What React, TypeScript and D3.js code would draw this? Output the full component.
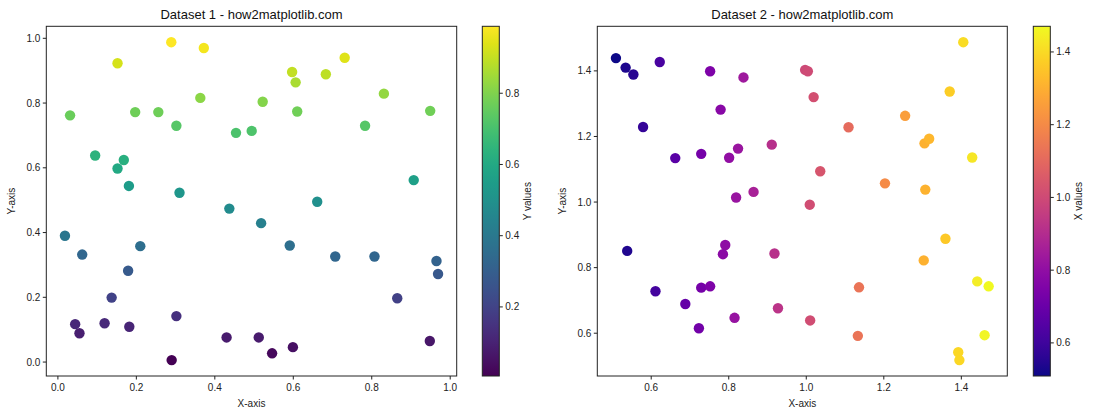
import React from "react";
import * as d3 from "d3";

// Dataset 1 (colour = y)
const x1 = [0.289, 0.372, 0.152, 0.363, 0.522, 0.031, 0.197, 0.256, 0.302, 0.454, 0.494, 0.095, 0.168, 0.152, 0.181, 0.310, 0.437,
  0.731, 0.597, 0.606, 0.683, 0.610, 0.831, 0.949, 0.783, 0.907, 0.661,
  0.018, 0.062, 0.210, 0.179, 0.137, 0.044, 0.055, 0.119, 0.182, 0.302, 0.290, 0.430, 0.512, 0.546, 0.518,
  0.591, 0.707, 0.807, 0.965, 0.969, 0.865, 0.599, 0.948];
const y1 = [0.988, 0.970, 0.923, 0.816, 0.804, 0.762, 0.772, 0.772, 0.730, 0.708, 0.714, 0.638, 0.624, 0.598, 0.544, 0.523, 0.474,
  0.940, 0.896, 0.864, 0.889, 0.774, 0.829, 0.776, 0.730, 0.562, 0.495,
  0.390, 0.332, 0.358, 0.282, 0.199, 0.117, 0.089, 0.120, 0.109, 0.142, 0.006, 0.076, 0.076, 0.027, 0.429,
  0.360, 0.326, 0.326, 0.312, 0.272, 0.197, 0.046, 0.065];

// Dataset 2 (colour = x)
const x2 = [0.509, 0.534, 0.554, 0.622, 0.579, 0.752, 0.838, 0.779, 0.662, 0.729, 0.801, 0.824, 0.911, 0.997, 1.004, 1.019, 1.036, 0.819, 0.864, 1.009,
  1.109, 1.255, 1.405, 1.370, 1.305, 1.317, 1.428, 1.203, 1.307,
  0.538, 0.611, 0.688, 0.723, 0.729, 0.752, 0.791, 0.785, 0.815, 0.918, 0.927, 1.010,
  1.359, 1.303, 1.441, 1.4705, 1.136, 1.133, 1.460, 1.392, 1.395];
const y2 = [1.439, 1.410, 1.389, 1.427, 1.229, 1.399, 1.380, 1.282, 1.134, 1.147, 1.135, 1.163, 1.175, 1.403, 1.399, 1.320, 1.094, 1.014, 1.031, 0.992,
  1.228, 1.263, 1.4875, 1.337, 1.179, 1.193, 1.136, 1.057, 1.038,
  0.851, 0.728, 0.689, 0.615, 0.739, 0.743, 0.869, 0.841, 0.647, 0.843, 0.676, 0.639,
  0.888, 0.822, 0.758, 0.743, 0.740, 0.592, 0.594, 0.542, 0.518];

const ticks1 = [0, 0.2, 0.4, 0.6, 0.8, 1.0];
const ticks2 = [0.6, 0.8, 1.0, 1.2, 1.4];
const cbTicks1 = [0.2, 0.4, 0.6, 0.8];
const cbTicks2 = [0.6, 0.8, 1.0, 1.2, 1.4];

const FONT = "'Liberation Sans', Arial, sans-serif";

function padDomain(v: number[]): [number, number] {
  const [a, b] = d3.extent(v) as [number, number];
  const m = (b - a) * 0.05;
  return [a - m, b + m];
}

type PanelProps = {
  xs: number[]; ys: number[]; cs: number[];
  left: number; right: number; cbLeft: number;
  title: string; cbLabel: string;
  interp: (t: number) => string;
  xt: number[]; yt: number[]; ct: number[]; gid: string;
};

function Panel(p: PanelProps) {
  const top = 26.3, bottom = 376;
  const x = d3.scaleLinear().domain(padDomain(p.xs)).range([p.left, p.right]);
  const y = d3.scaleLinear().domain(padDomain(p.ys)).range([bottom, top]);
  const cext = d3.extent(p.cs) as [number, number];
  const color = d3.scaleSequential(p.interp).domain(cext);
  const cy = d3.scaleLinear().domain(cext).range([bottom, top]);
  const cbW = 17;
  const fmt = d3.format(".1f");
  const stops = d3.range(0, 1.0001, 0.05);
  return (
    <g>
      <defs>
        <linearGradient id={p.gid} x1="0" y1="1" x2="0" y2="0">
          {stops.map((t) => (
            <stop key={t} offset={t} stopColor={p.interp(t)} />
          ))}
        </linearGradient>
      </defs>
      {p.xs.map((xv, i) => (
        <circle key={i} cx={x(xv)} cy={y(p.ys[i])} r={5.2} fill={color(p.cs[i])} />
      ))}
      <rect x={p.left} y={top} width={p.right - p.left} height={bottom - top} fill="none" stroke="#222" strokeWidth={1} />
      {p.xt.map((t) => (
        <g key={t} transform={`translate(${x(t)},${bottom})`}>
          <line y2={3.5} stroke="#222" />
          <text y={15} textAnchor="middle" fontSize={10} fontFamily={FONT} fill="#222">{fmt(t)}</text>
        </g>
      ))}
      {p.yt.map((t) => (
        <g key={t} transform={`translate(${p.left},${y(t)})`}>
          <line x2={-3.5} stroke="#222" />
          <text x={-6} dy="0.35em" textAnchor="end" fontSize={10} fontFamily={FONT} fill="#222">{fmt(t)}</text>
        </g>
      ))}
      <text x={(p.left + p.right) / 2} y={19} textAnchor="middle" fontSize={13} fontFamily={FONT} fill="#111">{p.title}</text>
      <text x={(p.left + p.right) / 2} y={407} textAnchor="middle" fontSize={10} fontFamily={FONT} fill="#222">X-axis</text>
      <text transform={`translate(${p.left - 31},${(top + bottom) / 2}) rotate(-90)`} textAnchor="middle" fontSize={10} fontFamily={FONT} fill="#222">Y-axis</text>
      <rect x={p.cbLeft} y={top} width={cbW} height={bottom - top} fill={`url(#${p.gid})`} stroke="#222" strokeWidth={1} />
      {p.ct.map((t) => (
        <g key={t} transform={`translate(${p.cbLeft + cbW},${cy(t)})`}>
          <line x2={3.5} stroke="#222" />
          <text x={6} dy="0.35em" textAnchor="start" fontSize={10} fontFamily={FONT} fill="#222">{fmt(t)}</text>
        </g>
      ))}
      <text transform={`translate(${p.cbLeft + cbW + 32},${(top + bottom) / 2}) rotate(-90)`} textAnchor="middle" fontSize={10} fontFamily={FONT} fill="#222">{p.cbLabel}</text>
    </g>
  );
}

export default function App() {
  return (
    <svg width={1120} height={420} style={{ position: "absolute", left: 0, top: 0, background: "#fff" }}>
      <rect width={1120} height={420} fill="#fff" />
      <Panel xs={x1} ys={y1} cs={y1} left={46.3} right={456.7} cbLeft={482.3}
        title="Dataset 1 - how2matplotlib.com" cbLabel="Y values" interp={d3.interpolateViridis}
        xt={ticks1} yt={ticks1} ct={cbTicks1} gid="g1" />
      <Panel xs={x2} ys={y2} cs={x2} left={597.3} right={1007.3} cbLeft={1033.3}
        title="Dataset 2 - how2matplotlib.com" cbLabel="X values" interp={d3.interpolatePlasma}
        xt={ticks2} yt={ticks2} ct={cbTicks2} gid="g2" />
    </svg>
  );
}
